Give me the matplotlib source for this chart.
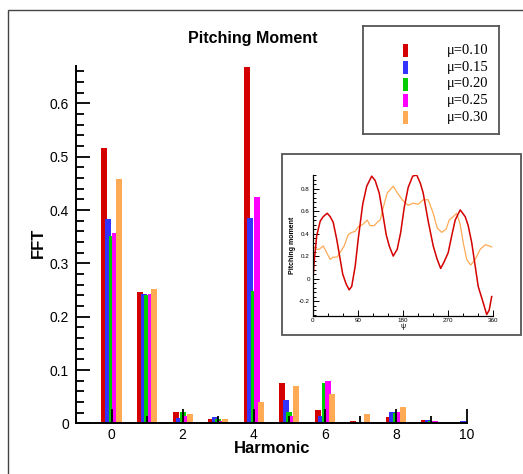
import numpy as np
import matplotlib
matplotlib.use('Agg')
import matplotlib.pyplot as plt
from matplotlib.patches import Rectangle
from matplotlib.ticker import MultipleLocator

plt.rcParams['font.family'] = ['Liberation Sans', 'DejaVu Sans']

# ── data ──
harmonics = np.arange(11)
mu_labels = ['\u03bc=0.10', '\u03bc=0.15', '\u03bc=0.20', '\u03bc=0.25', '\u03bc=0.30']
fft_mu010 = [0.516, 0.246, 0.022, 0.009, 0.669, 0.076, 0.025, 0.0045, 0.012, 0.0064, 0.0]
fft_mu015 = [0.383, 0.243, 0.010, 0.0125, 0.385, 0.044, 0.014, 0.0, 0.021, 0.0064, 0.0045]
fft_mu020 = [0.351, 0.240, 0.022, 0.008, 0.249, 0.022, 0.076, 0.0, 0.019, 0.0045, 0.0]
fft_mu025 = [0.357, 0.243, 0.0145, 0.005, 0.425, 0.0145, 0.079, 0.003, 0.021, 0.0045, 0.0]
fft_mu030 = [0.458, 0.252, 0.018, 0.009, 0.041, 0.0706, 0.0556, 0.0176, 0.031, 0.0, 0.0]

# inset: pitching moment time history (mu=0.10 and mu=0.30)
psi_010 = [0, 3, 8, 15, 21, 29, 35, 41, 48, 55, 60, 67, 73, 78, 85, 91, 100, 108, 118,
           125, 133, 140, 147, 153, 161, 169, 176, 183, 191, 200, 208, 215, 221, 231,
           241, 249, 256, 263, 271, 278, 285, 295, 305, 311, 318, 325, 331, 340, 348,
           353, 358]
cm_010 = [-0.04, 0.15, 0.38, 0.51, 0.55, 0.58, 0.55, 0.50, 0.35, 0.17, 0.04, -0.05,
          -0.10, -0.07, 0.11, 0.35, 0.66, 0.82, 0.91, 0.87, 0.76, 0.58, 0.39, 0.29,
          0.20, 0.26, 0.41, 0.63, 0.81, 0.91, 0.92, 0.85, 0.76, 0.51, 0.29, 0.17, 0.09,
          0.15, 0.23, 0.38, 0.52, 0.61, 0.55, 0.47, 0.32, 0.11, -0.07, -0.20, -0.32,
          -0.28, -0.16]
psi_030 = [0, 7, 13, 21, 28, 35, 41, 49, 56, 63, 71, 78, 85, 91, 100, 109, 115, 123,
           129, 135, 141, 149, 161, 171, 181, 191, 201, 211, 221, 231, 241, 249, 258,
           267, 273, 281, 288, 295, 301, 308, 316, 325, 335, 345, 353, 358]
cm_030 = [0.29, 0.26, 0.26, 0.29, 0.23, 0.17, 0.19, 0.19, 0.24, 0.29, 0.39, 0.41,
          0.42, 0.46, 0.48, 0.52, 0.47, 0.47, 0.50, 0.52, 0.63, 0.76, 0.82, 0.75, 0.69,
          0.65, 0.67, 0.66, 0.70, 0.70, 0.58, 0.45, 0.41, 0.44, 0.52, 0.55, 0.58, 0.48,
          0.32, 0.17, 0.12, 0.17, 0.26, 0.30, 0.29, 0.28]

COLORS = ['#d40000', '#3333ff', '#00cc00', '#ff00ff', '#ffaa55']
W, H = 523, 474

fig = plt.figure(figsize=(W / 100, H / 100), dpi=100)

# outer frame
fig.patches.append(Rectangle((8 / W, -0.1), 1.2, 1.1 - 10 / H + 0.0, transform=fig.transFigure,
                             fill=False, edgecolor='#444444', linewidth=1.0, zorder=0))

# ── main bar chart ──
ax = fig.add_axes([76 / W, 1 - 423.4 / H, 391 / W, 357.4 / H])
offsets = [-0.2, -0.1, 0.0, 0.1, 0.2]
series = [fft_mu010, fft_mu015, fft_mu020, fft_mu025, fft_mu030]
for vals, off, c, lab in zip(series, offsets, COLORS, mu_labels):
    ax.bar(harmonics + off, vals, width=0.17, color=c, linewidth=0, label=lab)

ax.set_xlim(-1, 10)
ax.set_ylim(0, 0.67)
for s in ['top', 'right']:
    ax.spines[s].set_visible(False)
for s in ['left', 'bottom']:
    ax.spines[s].set_linewidth(1.4)
ax.xaxis.set_major_locator(MultipleLocator(2))
ax.xaxis.set_minor_locator(MultipleLocator(1))
ax.yaxis.set_major_locator(MultipleLocator(0.1))
ax.yaxis.set_minor_locator(MultipleLocator(0.02))
ax.tick_params(which='both', direction='in', width=1.3)
ax.tick_params(axis='x', which='major', length=10, pad=3, labelsize=10)
ax.tick_params(axis='x', which='minor', length=5)
ax.tick_params(axis='y', which='major', length=10, pad=5, labelsize=10)
ax.tick_params(axis='y', which='minor', length=6)
ax.set_yticks(np.arange(0, 0.61, 0.1))
ax.set_yticklabels(['0', '0.1', '0.2', '0.3', '0.4', '0.5', '0.6'])
ax.set_xlabel('Harmonic', fontsize=12, fontweight='bold', va='center')
ax.xaxis.set_label_coords(0.501, -0.069)
ax.set_ylabel('FFT', fontsize=12, fontweight='bold', va='center')
ax.yaxis.set_label_coords(-0.095, 0.505)

fig.text(253 / W, 1 - 38 / H, 'Pitching Moment', ha='center', va='center',
         fontsize=11.5, fontweight='bold')

# ── legend box ──
ax_leg = fig.add_axes([363 / W, 1 - 134 / H, 136 / W, 108 / H])
ax_leg.set_xlim(0, 136)
ax_leg.set_ylim(108, 0)
ax_leg.set_xticks([])
ax_leg.set_yticks([])
for s in ax_leg.spines.values():
    s.set_edgecolor('#555555')
    s.set_linewidth(1.3)
for i, (c, lab) in enumerate(zip(COLORS, mu_labels)):
    yc = 24.7 + i * 16.65
    ax_leg.add_patch(Rectangle((40, yc - 6.5), 5, 13, color=c, linewidth=0))
    ax_leg.text(84, yc, lab, ha='left', va='center', fontsize=10.5,
                family=['Liberation Serif', 'DejaVu Serif'])

# ── inset ──
fig.patches.append(Rectangle((282 / W, 1 - 335 / H), 239 / W, 181 / H,
                             transform=fig.transFigure, facecolor='white',
                             edgecolor='#555555', linewidth=1.3, zorder=2))
axi = fig.add_axes([312.7 / W, 1 - 315.7 / H, 180 / W, 140.7 / H], zorder=3)
axi.plot(psi_030, cm_030, color=COLORS[4], linewidth=0.9)
axi.plot(psi_010, cm_010, color=COLORS[0], linewidth=1.1)
axi.set_xlim(0, 360)
axi.set_ylim(-0.33, 0.92)
for s in ['top', 'right']:
    axi.spines[s].set_visible(False)
for s in ['left', 'bottom']:
    axi.spines[s].set_linewidth(0.9)
axi.xaxis.set_major_locator(MultipleLocator(90))
axi.xaxis.set_minor_locator(MultipleLocator(30))
axi.yaxis.set_major_locator(MultipleLocator(0.2))
axi.yaxis.set_minor_locator(MultipleLocator(0.04))
axi.tick_params(which='both', direction='in', width=0.7, labelsize=4.5, pad=2)
axi.tick_params(which='major', length=4)
axi.tick_params(which='minor', length=2.2)
axi.set_yticks(np.arange(-0.2, 0.81, 0.2))
axi.set_yticklabels(['-0.2', '0', '0.2', '0.4', '0.6', '0.8'])
axi.set_xlabel('\u03c8', fontsize=5, labelpad=0)
axi.set_ylabel('Pitching moment', fontsize=5, fontweight='bold', labelpad=2)

fig.savefig('out.png', dpi=100)
